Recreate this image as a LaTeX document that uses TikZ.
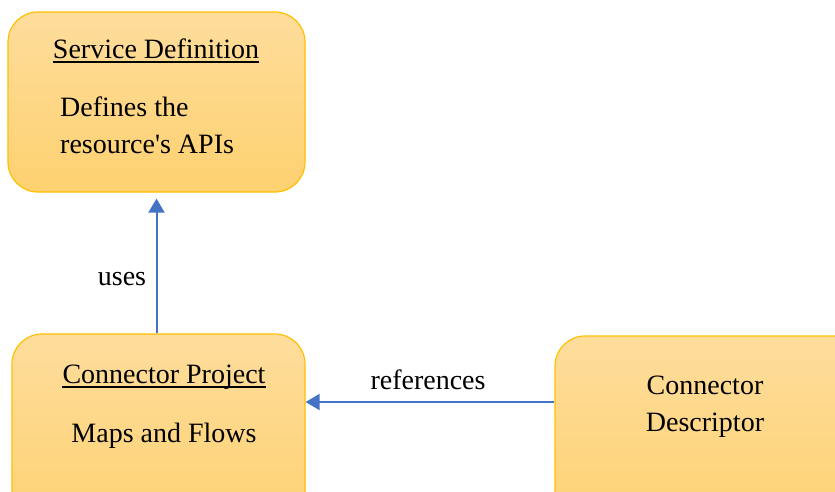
\documentclass[tikz,border=0pt]{standalone}
\usepackage{fontspec}
\setmainfont{Liberation Serif}
\usetikzlibrary{arrows.meta}
\definecolor{boxtop}{RGB}{254,221,156}
\definecolor{boxbot}{RGB}{254,209,112}
\definecolor{boxedge}{RGB}{255,192,0}
\definecolor{arrowblue}{RGB}{68,114,196}
\begin{document}
\begin{tikzpicture}[x=1pt,y=-1pt,
  box/.style={draw=boxedge, line width=1.2pt, rounded corners=30pt, top color=boxtop, bottom color=boxbot, inner sep=0pt},
  txt/.style={font=\fontsize{28}{37}\selectfont, inner sep=0pt, anchor=base},
  uline/.style={line width=1.6pt, black},
  link/.style={draw=arrowblue, line width=2pt, -{Triangle[length=14pt,width=16pt]}}]
\clip (0,0) rectangle (835,491);
\fill[white] (0,0) rectangle (835,491);
% boxes
\node[box, minimum width=297pt, minimum height=180pt] (def) at (156.5,102) {};
\node[box, minimum width=293pt, minimum height=206pt] (proj) at (158.5,437) {};
\node[box, minimum width=325pt, minimum height=204pt] (desc) at (717.5,438) {};
% texts
\node[txt] (t1) at (156,58) {Service Definition};
\draw[uline] ([yshift=-4pt]t1.base west) -- ([yshift=-4pt]t1.base east);
\node[txt, anchor=base west] (t2) at (60,116) {Defines the};
\node[txt, anchor=base west] (t3) at (60,153) {resource\textquotesingle s APIs};
\node[txt] (t4) at (164,383) {Connector Project};
\draw[uline] ([yshift=-4pt]t4.base west) -- ([yshift=-4pt]t4.base east);
\node[txt] (t5) at (164,442) {Maps and Flows};
\node[txt] (t6) at (705,394) {Connector};
\node[txt] (t7) at (705,431) {Descriptor};
% connectors
\coordinate (r) at (0,402);
\draw[link, shorten >=6pt] (proj.north -| def.south) -- (def.south);
\draw[link] (desc.west |- r) -- (proj.east |- r);
\node[txt] (uses) at (122,285) {uses};
\node[txt] (refs) at (428,389) {references};
\end{tikzpicture}
\end{document}
